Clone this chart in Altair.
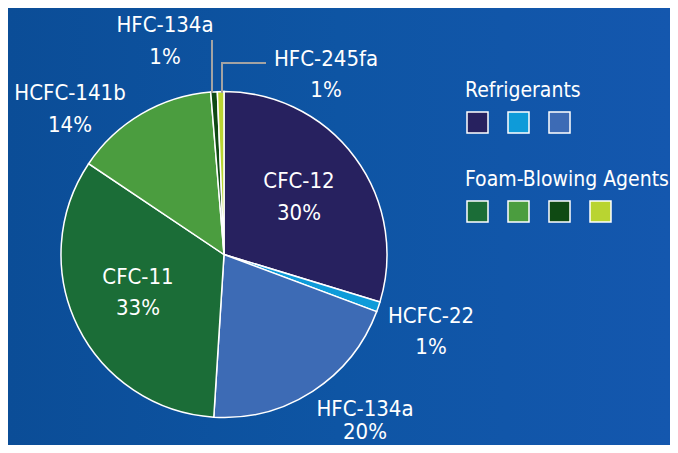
import altair as alt
import pandas as pd

# ---- data ----
keys = ["CFC-12", "HCFC-22", "HFC-134a (R)", "CFC-11", "HCFC-141b", "HFC-134a (F)", "HFC-245fa"]
names = ["CFC-12", "HCFC-22", "HFC-134a", "CFC-11", "HCFC-141b", "HFC-134a", "HFC-245fa"]
shares = [29.7, 1.0, 20.3, 33.4, 14.3, 0.65, 0.65]
pct_labels = ["30%", "1%", "20%", "33%", "14%", "1%", "1%"]
groups = ["Refrigerants", "Refrigerants", "Refrigerants",
          "Foam-Blowing Agents", "Foam-Blowing Agents", "Foam-Blowing Agents", "Foam-Blowing Agents"]
colors = ["#27215f", "#0e9bd9", "#3d6bb5", "#1b6d37", "#4b9d3f", "#0f4a13", "#b9d431"]
legend_titles = ["Refrigerants", "Foam-Blowing Agents"]

# ---- layout (chart pixel coords) ----
W, H = 662, 437
CX, CY, R = 216, 246.5, 163
label_x = [291, 423, 357, 130, 62, 157, 318]
name_y = [180, 315, 408, 276, 92, 24, 58]
pct_y = [212, 346, 431, 307, 124, 56, 89]
FONT = "Liberation Sans Narrow, DejaVu Sans Condensed, Arial Narrow, sans-serif"
FS = 22
FS_LEG = 21

df = pd.DataFrame({
    "key": keys, "name": names, "share": shares, "pct": pct_labels,
    "group": groups, "idx": list(range(len(keys))),
    "lx": label_x, "ny": name_y, "py": pct_y,
})

color_scale = alt.Scale(domain=keys, range=colors)

bg = alt.Chart(alt.Data(values=[{"a": 0}])).mark_rect(
    fill=alt.Gradient(
        gradient="linear", x1=0, y1=0.5, x2=1, y2=0.5,
        stops=[alt.GradientStop(color="#0b4d97", offset=0),
               alt.GradientStop(color="#0e55a4", offset=0.5),
               alt.GradientStop(color="#1457ae", offset=1)],
    )
).encode(x=alt.value(0), x2=alt.value(W), y=alt.value(0), y2=alt.value(H))

pie = alt.Chart(df).mark_arc(outerRadius=R, stroke="white", strokeWidth=1.5).encode(
    theta=alt.Theta("share:Q", stack=True),
    color=alt.Color("key:N", scale=color_scale, legend=None),
    order=alt.Order("idx:Q"),
    x=alt.value(CX), y=alt.value(CY),
)

name_txt = alt.Chart(df).mark_text(
    font=FONT, fontSize=FS, color="white", align="center", baseline="alphabetic"
).encode(
    x=alt.X("lx:Q", scale=None), y=alt.Y("ny:Q", scale=None), text="name:N"
)
pct_txt = alt.Chart(df).mark_text(
    font=FONT, fontSize=FS, color="white", align="center", baseline="alphabetic"
).encode(
    x=alt.X("lx:Q", scale=None), y=alt.Y("py:Q", scale=None), text="pct:N"
)

# leader lines for the two tiny foam slices
lead_color = "#a3a3a3"
lead1 = alt.Chart(alt.Data(values=[{"a": 0}])).mark_rule(color=lead_color, strokeWidth=2).encode(
    x=alt.value(204), y=alt.value(32), y2=alt.value(85))
lead2 = alt.Chart(alt.Data(values=[{"a": 0}])).mark_rule(color=lead_color, strokeWidth=2).encode(
    x=alt.value(214), y=alt.value(55), y2=alt.value(85))
lead3 = alt.Chart(alt.Data(values=[{"a": 0}])).mark_rule(color=lead_color, strokeWidth=2).encode(
    x=alt.value(213), x2=alt.value(258), y=alt.value(55))

# custom grouped legend
LX0, LSTEP, LS = 459, 41, 21
leg_rows = []
counters = {g: 0 for g in legend_titles}
for k, g in zip(keys, groups):
    i = counters[g]
    counters[g] += 1
    top = 104 if g == legend_titles[0] else 193
    leg_rows.append({"key": k, "x": LX0 + i * LSTEP, "x2": LX0 + i * LSTEP + LS,
                     "y": top, "y2": top + LS})
leg_df = pd.DataFrame(leg_rows)
leg_sq = alt.Chart(leg_df).mark_rect(stroke="white", strokeWidth=1.5).encode(
    x=alt.X("x:Q", scale=None), x2="x2:Q",
    y=alt.Y("y:Q", scale=None), y2="y2:Q",
    color=alt.Color("key:N", scale=color_scale, legend=None),
)
leg_title_df = pd.DataFrame({"t": legend_titles, "x": [457, 457], "y": [89, 178]})
leg_titles = alt.Chart(leg_title_df).mark_text(
    font=FONT, fontSize=FS_LEG, color="white", align="left", baseline="alphabetic"
).encode(x=alt.X("x:Q", scale=None), y=alt.Y("y:Q", scale=None), text="t:N")

chart = alt.layer(bg, pie, lead1, lead2, lead3, name_txt, pct_txt, leg_sq, leg_titles).properties(
    width=W, height=H, padding=0,
    autosize=alt.AutoSizeParams(type="fit", contains="padding"),
    background="#0d52a0",
).configure_view(strokeWidth=0)

chart.save("out.html", embed_options={"renderer": "svg", "actions": False})
